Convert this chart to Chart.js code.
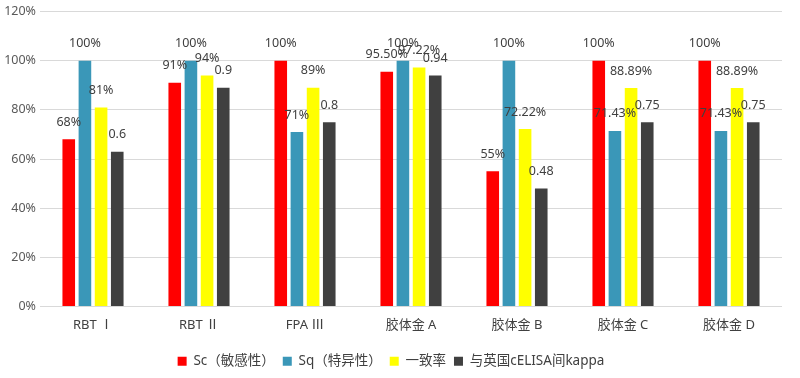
<!DOCTYPE html>
<html>
<head>
<meta charset="utf-8">
<script src="https://cdn.jsdelivr.net/npm/chart.js@4.4.1/dist/chart.umd.min.js"></script>
<style>
  html, body { margin: 0; padding: 0; background: #fff; }
  #wrap { width: 800px; height: 378px; position: relative; }
</style>
</head>
<body>
<div id="wrap"><canvas id="chart"></canvas></div>
<script>
// Data
const categories = ['RBT Ⅰ', 'RBT Ⅱ', 'FPA Ⅲ', '胶体金 A', '胶体金 B', '胶体金 C', '胶体金 D'];
const seriesNames = ['Sc（敏感性）', 'Sq（特异性）', '一致率', '与英国cELISA间kappa'];

const scValues = [68, 91, 100, 95.5, 55, 100, 100];
const sqValues = [100, 100, 71, 100, 100, 71.43, 71.43];
const agreeValues = [81, 94, 89, 97.22, 72.22, 88.89, 88.89];
const kappaValues = [63, 89, 75, 94, 48, 75, 75];

const scLabels = ['68%', '91%', '100%', '95.50%', '55%', '100%', '100%'];
const sqLabels = ['100%', '100%', '71%', '100%', '100%', '71.43%', '71.43%'];
const agreeLabels = ['81%', '94%', '89%', '97.22%', '72.22%', '88.89%', '88.89%'];
const kappaLabels = ['0.6', '0.9', '0.8', '0.94', '0.48', '0.75', '0.75'];

const yTicks = [0, 20, 40, 60, 80, 100, 120];

const COLORS = ['#ff0000', '#3a97b8', '#ffff00', '#404040'];
const FONT = "'Noto Sans', 'Noto Sans CJK SC', sans-serif";

const valueLists = [scValues, sqValues, agreeValues, kappaValues];
const labelLists = [scLabels, sqLabels, agreeLabels, kappaLabels];

// Draw the value labels above each bar
const barLabels = {
    id: 'barLabels',
    afterDatasetsDraw(chart) {
        const ctx = chart.ctx;
        ctx.save();
        ctx.font = '12.5px ' + FONT;
        ctx.fillStyle = '#404040';
        ctx.textAlign = 'center';
        ctx.textBaseline = 'middle';
        chart.data.datasets.forEach((ds, i) => {
            const meta = chart.getDatasetMeta(i);
            meta.data.forEach((bar, j) => {
                ctx.fillText(labelLists[i][j], bar.x, bar.y - 17);
            });
        });
        ctx.restore();
    }
};

new Chart(document.getElementById('chart'), {
    type: 'bar',
    data: {
        labels: categories,
        datasets: seriesNames.map((name, i) => ({
            label: name,
            data: valueLists[i],
            backgroundColor: COLORS[i],
            borderWidth: 0,
            categoryPercentage: 0.61,
            barPercentage: 0.78
        }))
    },
    options: {
        responsive: true,
        maintainAspectRatio: false,
        animation: false,
        layout: { padding: { top: 4, right: 18, left: 0, bottom: 0 } },
        scales: {
            x: {
                grid: { display: false },
                border: { display: false },
                ticks: { color: '#404040', font: { family: FONT, size: 13 }, padding: 3 },
                afterFit(scale) { scale.height = 40; }
            },
            y: {
                min: 0,
                max: 120,
                afterBuildTicks(scale) { scale.ticks = yTicks.map(v => ({ value: v })); },
                grid: { color: '#d9d9d9', drawTicks: false },
                border: { display: false },
                ticks: {
                    color: '#595959',
                    font: { family: FONT, size: 12.5 },
                    padding: 4,
                    callback: v => v + '%'
                },
                afterFit(scale) { scale.width = 40; }
            }
        },
        plugins: {
            legend: {
                position: 'bottom',
                labels: {
                    boxWidth: 9,
                    boxHeight: 9,
                    padding: 8,
                    color: '#404040',
                    font: { family: FONT, size: 13.5 }
                }
            },
            tooltip: { enabled: false }
        }
    },
    plugins: [barLabels]
});
</script>
</body>
</html>
